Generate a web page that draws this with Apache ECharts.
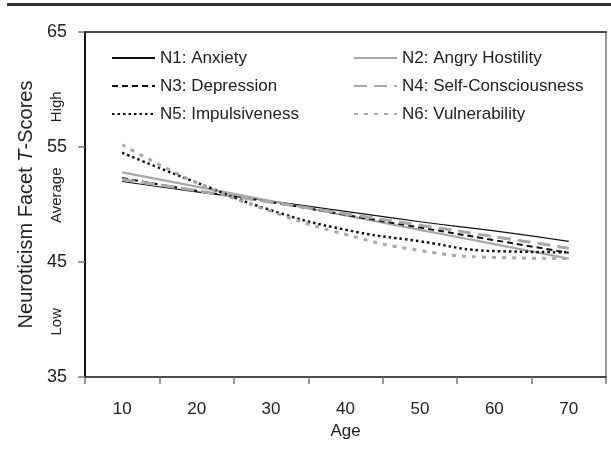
<!DOCTYPE html>
<html>
<head>
<meta charset="utf-8">
<script src="https://cdn.jsdelivr.net/npm/echarts@6/dist/echarts.min.js"></script>
<style>html,body{margin:0;padding:0;background:#fff}#c{width:611px;height:453px}</style>
</head>
<body>
<div id="c"></div>
<script>
var ages = ['10','20','30','40','50','60','70'];
var yTicks = [35, 45, 55, 65];
var bandLabels = ['High','Average','Low'];
var bandValues = [58.5, 50.8, 39.8];
var n1 = [52.0, 51.1, 50.3, 49.4, 48.5, 47.7, 46.8];
var n2 = [52.8, 51.55, 50.3, 49.05, 47.8, 46.55, 45.3];
var n3 = [52.3, 51.2, 50.2, 49.1, 48.0, 46.9, 45.8];
var n4 = [52.2, 51.2, 50.2, 49.2, 48.2, 47.2, 46.2];
var n5 = [54.5, 51.9, 49.5, 47.8, 46.8, 45.95, 45.85];
var n6 = [55.2, 51.9, 49.4, 47.4, 46.0, 45.4, 45.3];
var names = ['N1: Anxiety','N2: Angry Hostility','N3: Depression','N4: Self-Consciousness','N5: Impulsiveness','N6: Vulnerability'];

var FONT = '"Liberation Sans", Arial, sans-serif';
var GRAY = '#a8a8a8';
var chart = echarts.init(document.getElementById('c'), null, {renderer:'canvas'});

function ser(name, data, color, width, type) {
  return {name:name, type:'line', data:data, smooth:true, symbol:'none', showSymbol:false,
    lineStyle:{color:color, width:width, type:type, cap:'butt'}, itemStyle:{color:color}, z:3};
}
var legendCommon = {orient:'vertical', itemWidth:43, itemHeight:14, itemGap:8,
  itemStyle:{opacity:0, borderWidth:0},
  textStyle:{fontFamily:FONT, fontSize:17, color:'#222', lineHeight:20}, selectedMode:false};

var option = {
  animation:false,
  backgroundColor:'#fff',
  grid:{left:85, right:5, top:32, bottom:76, containLabel:false},
  legend:[
    Object.assign({left:106, top:43, data:[names[0],names[2],names[4]]}, legendCommon),
    Object.assign({left:348, top:43, data:[names[1],names[3],names[5]]}, legendCommon)
  ],
  xAxis:[{
    type:'category', data:ages, boundaryGap:true,
    axisLine:{lineStyle:{color:'#111', width:1.5}},
    axisTick:{show:true, inside:false, length:7, lineStyle:{color:'#777', width:1.5}},
    axisLabel:{fontFamily:FONT, fontSize:17, color:'#222', margin:24},
    name:'Age', nameLocation:'middle', nameGap:42,
    nameTextStyle:{fontFamily:FONT, fontSize:17, color:'#222'},
    splitLine:{show:false}
  },{
    type:'category', data:ages, position:'top', boundaryGap:true,
    axisLine:{lineStyle:{color:'#111', width:1.5}}, axisTick:{show:false}, axisLabel:{show:false}
  }],
  yAxis:[{
    type:'value', min:35, max:65, interval:10,
    axisLine:{show:true, lineStyle:{color:'#111', width:2}},
    axisTick:{show:true, inside:false, length:7, lineStyle:{color:'#777', width:1.5}},
    axisLabel:{fontFamily:FONT, fontSize:18, color:'#222', margin:18},
    splitLine:{show:false},
    name:'{a|Neuroticism Facet }{b|T}{a|-Scores}', nameLocation:'middle', nameGap:45, nameRotate:90,
    nameTextStyle:{rich:{a:{fontFamily:FONT, fontSize:20, color:'#222'}, b:{fontFamily:FONT, fontSize:20, fontStyle:'italic', color:'#222'}}}
  },{
    type:'value', min:35, max:65, interval:10, position:'right',
    axisLine:{show:true, lineStyle:{color:'#999', width:2}}, axisTick:{show:false}, axisLabel:{show:false}, splitLine:{show:false}
  }],
  series:[
    ser(names[0], n1, '#111', 1.2, 'solid'),
    ser(names[1], n2, GRAY, 2.2, 'solid'),
    ser(names[2], n3, '#111', 2, [6,4]),
    ser(names[3], n4, GRAY, 3, [13,7]),
    ser(names[4], n5, '#111', 2.5, [2.5,3]),
    ser(names[5], n6, GRAY, 3, [4,6])
  ]
};
chart.setOption(option);

var gr = [{type:'rect', shape:{x:7, y:3, width:604, height:3}, style:{fill:'#333'}, silent:true}];
for (var i = 0; i < bandLabels.length; i++) {
  var py = chart.convertToPixel({yAxisIndex:0}, bandValues[i]);
  gr.push({type:'text', x:57, y:py, rotation:Math.PI/2,
    style:{text:bandLabels[i], fontFamily:FONT, fontSize:15, fill:'#222', align:'center', verticalAlign:'middle'}, silent:true});
}
chart.setOption({graphic:gr});
</script>
</body>
</html>
